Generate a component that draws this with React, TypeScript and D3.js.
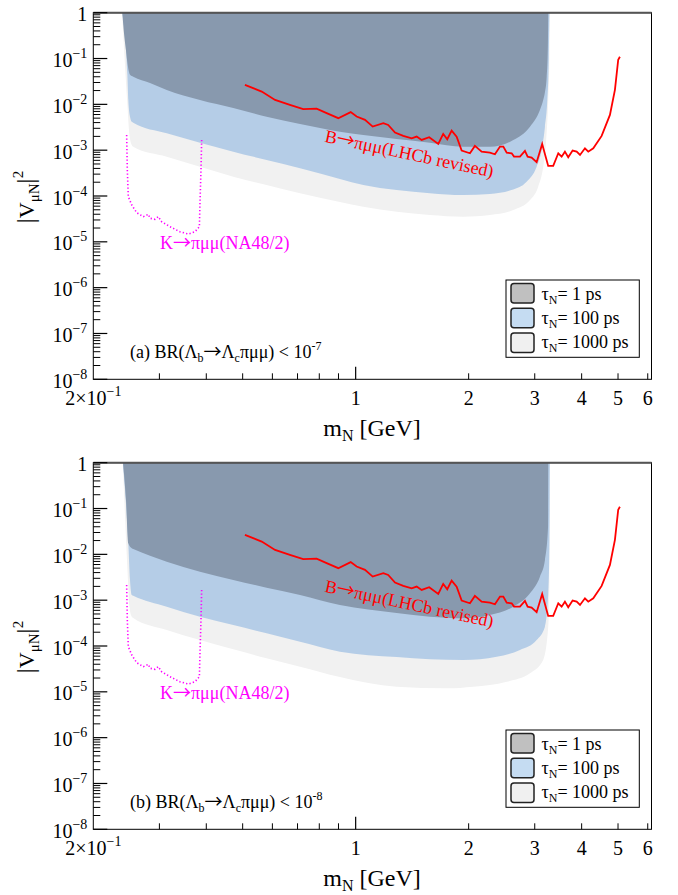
import React from 'react';
import * as d3 from 'd3';

const W = 678;
const H = 895;
const PANEL_SHIFT = 450;

// ---------- data ----------
// B -> pi mu mu (LHCb revised) limit curve
const redMass = [0.507, 0.562, 0.610, 0.668, 0.725, 0.787, 0.837, 0.899, 0.970, 1.006, 1.059, 1.110, 1.185, 1.221, 1.273, 1.339, 1.410, 1.454, 1.499, 1.570, 1.660, 1.711, 1.754, 1.802, 1.858, 1.916, 2.016, 2.078, 2.166, 2.278, 2.350, 2.424, 2.474, 2.526, 2.604, 2.642, 2.740, 2.825, 2.872, 2.943, 3.035, 3.140, 3.258, 3.360, 3.466, 3.538, 3.610, 3.684, 3.784, 3.880, 3.960, 4.082, 4.166, 4.296, 4.522, 4.758, 4.906, 5.006, 5.058];
const redV = [2.67e-2, 1.90e-2, 1.25e-2, 9.75e-3, 7.85e-3, 8.09e-3, 6.43e-3, 4.99e-3, 6.76e-3, 5.41e-3, 4.58e-3, 3.27e-3, 3.88e-3, 3.56e-3, 2.42e-3, 2.05e-3, 1.82e-3, 1.98e-3, 1.67e-3, 1.92e-3, 1.37e-3, 2.26e-3, 1.73e-3, 2.67e-3, 1.98e-3, 9.8e-4, 8.57e-4, 1.24e-3, 9.29e-4, 8.84e-4, 8.15e-4, 1.20e-3, 1.20e-3, 8.84e-4, 8.57e-4, 7.23e-4, 7.23e-4, 9.63e-4, 7.23e-4, 6.87e-4, 5.46e-4, 1.37e-3, 4.53e-4, 4.53e-4, 8.57e-4, 7.23e-4, 9.29e-4, 7.01e-4, 9.8e-4, 9.29e-4, 7.87e-4, 1.10e-3, 9.29e-4, 1.10e-3, 2.05e-3, 5.89e-3, 2.07e-2, 9.4e-2, 0.109];

// K -> pi mu mu (NA48/2) limit curve
const kMass = [0.2454, 0.2464, 0.2479, 0.2532, 0.2610, 0.2718, 0.2803, 0.2832, 0.2920, 0.2980, 0.3042, 0.3202, 0.3404, 0.3582, 0.3732, 0.3834, 0.3848, 0.3872, 0.3889];
const kV = [2.14e-3, 3.70e-4, 9.66e-5, 6.37e-5, 4.33e-5, 3.54e-5, 3.99e-5, 3.27e-5, 3.10e-5, 3.54e-5, 2.75e-5, 2.14e-5, 1.66e-5, 1.48e-5, 1.66e-5, 2.14e-5, 6.93e-5, 3.70e-4, 1.82e-3];

// Panel (a): BR < 1e-7, lower boundaries of the sensitive regions
const aDarkMass = [0.2390, 0.2414, 0.2444, 0.2474, 0.2505, 0.2556, 0.2832, 0.3138, 0.3848, 0.472, 0.579, 0.711, 0.908, 1.048, 1.286, 1.577, 1.935, 2.278, 2.630, 2.914, 3.097, 3.160, 3.194, 3.228, 3.252, 3.259];
const aDarkV = [1, 0.36, 0.15, 0.066, 0.044, 0.040, 0.0292, 0.0206, 0.01245, 8.33e-3, 5.38e-3, 3.73e-3, 2.53e-3, 2.15e-3, 1.75e-3, 1.46e-3, 1.19e-3, 1.19e-3, 1.67e-3, 3.26e-3, 7.53e-3, 1.245e-2, 1.86e-2, 4.0e-2, 0.2, 1];
const aBlueMass = [0.2388, 0.2465, 0.2479, 0.2505, 0.2532, 0.2556, 0.3138, 0.3848, 0.472, 0.579, 0.711, 0.908, 1.048, 1.286, 1.577, 1.935, 2.278, 2.60, 2.854, 3.035, 3.130, 3.194, 3.240, 3.270, 3.283];
const aBlueV = [1, 0.0437, 0.01245, 5.38e-3, 4.18e-3, 3.98e-3, 2.34e-3, 1.46e-3, 9.27e-4, 6.11e-4, 4.03e-4, 2.35e-4, 1.74e-4, 1.35e-4, 1.15e-4, 1.05e-4, 1.11e-4, 1.35e-4, 2.05e-4, 4.36e-4, 1.01e-3, 3.26e-3, 1.245e-2, 0.1, 1];
const aGrayMass = [0.2386, 0.2465, 0.2494, 0.2532, 0.2556, 0.3138, 0.3848, 0.472, 0.579, 0.711, 0.908, 1.048, 1.286, 1.577, 1.935, 2.278, 2.630, 2.914, 3.064, 3.160, 3.213, 3.259, 3.283, 3.290];
const aGrayV = [1, 0.01, 2.34e-3, 1.30e-3, 1.19e-3, 7.21e-4, 4.36e-4, 2.64e-4, 1.74e-4, 1.15e-4, 7.41e-5, 5.85e-5, 4.55e-5, 3.85e-5, 3.54e-5, 3.85e-5, 4.95e-5, 8.18e-5, 1.60e-4, 4.36e-4, 1.41e-3, 1.245e-2, 0.1, 1];

// Panel (b): BR < 1e-8
const bDarkMass = [0.2400, 0.2444, 0.2479, 0.2532, 0.2556, 0.3138, 0.3848, 0.472, 0.579, 0.711, 0.908, 1.286, 1.577, 1.935, 2.278, 2.630, 2.914, 3.097, 3.194, 3.255, 3.259];
const bDarkV = [1, 0.1535, 0.0174, 0.01355, 0.0131, 6.92e-3, 4.18e-3, 2.76e-3, 1.87e-3, 1.30e-3, 7.85e-4, 5.26e-4, 4.36e-4, 4.03e-4, 4.75e-4, 7.21e-4, 1.41e-3, 3.26e-3, 7.53e-3, 4.0e-2, 1];
const bBlueMass = [0.2398, 0.2479, 0.2505, 0.2532, 0.2556, 0.3138, 0.3848, 0.472, 0.579, 0.711, 0.908, 1.286, 1.577, 1.935, 2.375, 2.740, 3.035, 3.194, 3.259, 3.283, 3.290];
const bBlueV = [1, 0.0174, 2.76e-3, 1.30e-3, 1.25e-3, 7.21e-4, 4.36e-4, 2.88e-4, 1.89e-4, 1.24e-4, 7.52e-5, 5.75e-5, 5.13e-5, 4.95e-5, 5.85e-5, 8.18e-5, 1.35e-4, 2.64e-4, 1.41e-3, 2.06e-2, 1];
const bGrayMass = [0.2396, 0.2479, 0.2494, 0.2532, 0.2556, 0.3138, 0.3848, 0.472, 0.579, 0.711, 0.908, 1.286, 1.748, 2.057, 2.526, 2.914, 3.160, 3.259, 3.283, 3.292];
const bGrayV = [1, 2.0e-3, 7.85e-4, 4.36e-4, 4.08e-4, 2.24e-4, 1.35e-4, 8.48e-5, 5.40e-5, 3.54e-5, 2.11e-5, 1.29e-5, 1.19e-5, 1.29e-5, 1.66e-5, 2.54e-5, 4.95e-5, 2.64e-4, 2.76e-3, 1];

// axis ticks
const yDecades = [0, -1, -2, -3, -4, -5, -6, -7, -8];
const xMinorTicks = [0.3, 0.4, 0.5, 0.6, 0.7, 0.8, 0.9, 2, 3, 4, 5, 6];
const xMajorTicks = [1];
const xTickLabels = ['1', '2', '3', '4', '5', '6'];
const xTickLabelValues = [1, 2, 3, 4, 5, 6];

const legendLabels = ['1 ps', '100 ps', '1000 ps'];
const legendSwatch = ['#c0c0c0', '#c5dcf2', '#f0f0f0'];

const panels = [
  { tag: '(a)', exp: '-7', dark: [aDarkMass, aDarkV], blue: [aBlueMass, aBlueV], gray: [aGrayMass, aGrayV] },
  { tag: '(b)', exp: '-8', dark: [bDarkMass, bDarkV], blue: [bBlueMass, bBlueV], gray: [bGrayMass, bGrayV] },
];

// ---------- layout ----------
const L = 93.3, R = 651.5, T = 12.7, B = 379.3;
const FONT = '"Liberation Serif", "DejaVu Serif", serif';
const ARROW_FONT = '"Noto Sans CJK SC", "DejaVu Sans", sans-serif';
const COL_DARK = '#8899ae';
const COL_BLUE = '#b5cde7';
const COL_GRAY = '#f1f1f1';

const x = d3.scaleLog().domain([0.2, 6.14]).range([L, R]);
const y = d3.scaleLog().domain([1e-8, 1]).range([B, T]);

const zip = (a: number[], b: number[]) => a.map((v, i) => [v, b[i]] as [number, number]);

const areaPath = (m: number[], v: number[]) => {
  const line = d3.line<[number, number]>().x(d => x(d[0])).y(d => y(d[1])).curve(d3.curveMonotoneX);
  return (line(zip(m, v)) || '') + 'Z';
};
const linePath = (m: number[], v: number[]) =>
  d3.line<[number, number]>().x(d => x(d[0])).y(d => y(d[1]))(zip(m, v)) || '';

const Arrow = () => <tspan fontFamily={ARROW_FONT}>→</tspan>;

function Panel({ p }: { p: any }) {
  const minor: number[] = [];
  for (let k = -8; k < 0; k++) for (let j = 2; j <= 9; j++) minor.push(j * Math.pow(10, k));
  return (
    <g>
      <path d={areaPath(p.gray[0], p.gray[1])} fill={COL_GRAY} />
      <path d={areaPath(p.blue[0], p.blue[1])} fill={COL_BLUE} />
      <path d={areaPath(p.dark[0], p.dark[1])} fill={COL_DARK} />
      <path d={linePath(redMass, redV)} fill="none" stroke="#ff0000" strokeWidth={1.8} />
      <path d={linePath(kMass, kV)} fill="none" stroke="#ff00ff" strokeWidth={1.6} strokeDasharray="1.3 2.2" />

      {/* frame */}
      <rect x={L} y={T} width={R - L} height={B - T} fill="none" stroke="#000" strokeWidth={1} />
      <line x1={L} x2={R} y1={T} y2={T} stroke="#555" strokeWidth={2} />

      {/* y ticks */}
      {yDecades.map(k => (
        <line key={'ym' + k} x1={L} x2={L + 14} y1={y(Math.pow(10, k))} y2={y(Math.pow(10, k))} stroke="#000" strokeWidth={1.2} />
      ))}
      {minor.map((v, i) => (
        <line key={'yn' + i} x1={L} x2={L + 7} y1={y(v)} y2={y(v)} stroke="#000" strokeWidth={1} />
      ))}
      {/* y tick labels */}
      {yDecades.map(k => (
        k === 0 ? (
          <text key={'yl' + k} x={L - 6} y={y(1) + 8.5} textAnchor="end" fontSize={20} fontFamily={FONT}>1</text>
        ) : (
          <text key={'yl' + k} x={L - 6} y={y(Math.pow(10, k)) + 8.5} textAnchor="end" fontSize={20} fontFamily={FONT}>
            10<tspan dy={-9} fontSize={14}>{'\u2212' + (-k)}</tspan>
          </text>
        )
      ))}

      {/* x ticks */}
      {xMinorTicks.map(v => (
        <line key={'xn' + v} x1={x(v)} x2={x(v)} y1={B} y2={B - 6} stroke="#000" strokeWidth={1} />
      ))}
      {xMajorTicks.map(v => (
        <line key={'xm' + v} x1={x(v)} x2={x(v)} y1={B} y2={B - 12.5} stroke="#000" strokeWidth={1.2} />
      ))}
      <text x={x(0.2)} y={405} textAnchor="middle" fontSize={20} fontFamily={FONT}>
        2×10<tspan dy={-9} fontSize={14}>{'\u22121'}</tspan>
      </text>
      {xTickLabels.map((s, i) => (
        <text key={'xl' + s} x={x(xTickLabelValues[i])} y={405} textAnchor="middle" fontSize={20} fontFamily={FONT}>{s}</text>
      ))}

      {/* axis titles */}
      <text x={372} y={436} textAnchor="middle" fontSize={24} fontFamily={FONT}>
        m<tspan dy={5} fontSize={16}>N</tspan><tspan dy={-5}> [GeV]</tspan>
      </text>
      <text transform={`translate(34,197) rotate(-90)`} textAnchor="middle" fontSize={22} fontFamily={FONT}>
        <tspan fontSize={25}>|</tspan>V<tspan dy={5} fontSize={15}>μN</tspan><tspan dy={-5} fontSize={25}>|</tspan><tspan dy={-11} fontSize={15}>2</tspan>
      </text>

      {/* annotations */}
      <text transform="translate(324,141.7) rotate(12)" fill="#ff0000" fontSize={18} fontFamily={FONT}>B<Arrow />πμμ(LHCb revised)</text>
      <text x={160} y={249} fill="#ff00ff" fontSize={18} fontFamily={FONT}>K<Arrow />πμμ(NA48/2)</text>
      <text x={130} y={358} fontSize={18} fontFamily={FONT}>
        {p.tag} BR(Λ<tspan dy={4} fontSize={12}>b</tspan><tspan dy={-4} fontFamily={ARROW_FONT}>→</tspan><tspan>Λ</tspan><tspan dy={4} fontSize={12}>c</tspan><tspan dy={-4}>πμμ) &lt; 10</tspan><tspan dy={-8} fontSize={12}>{p.exp}</tspan>
      </text>

      {/* legend */}
      <rect x={506} y={280} width={133.3} height={77.3} fill="#fff" stroke="#000" strokeWidth={1} />
      {legendLabels.map((s, i) => (
        <g key={'lg' + i}>
          <rect x={511} y={283.5 + i * 24.8} width={23} height={19.5} rx={3} fill={legendSwatch[i]} stroke="#222" strokeWidth={1.5} />
          <text x={541.5} y={300 + i * 24.2} fontSize={18} fontFamily={FONT}>
            τ<tspan dy={4} fontSize={12}>N</tspan><tspan dy={-4}>{'= ' + s}</tspan>
          </text>
        </g>
      ))}
    </g>
  );
}

export default function App() {
  return (
    <svg width={W} height={H} viewBox={`0 0 ${W} ${H}`} style={{ position: 'absolute', left: 0, top: 0, background: '#fff' }}>
      <rect x={0} y={0} width={W} height={H} fill="#fff" />
      {panels.map((p, i) => (
        <g key={p.tag} transform={`translate(0,${i * PANEL_SHIFT})`}>
          <Panel p={p} />
        </g>
      ))}
    </svg>
  );
}
